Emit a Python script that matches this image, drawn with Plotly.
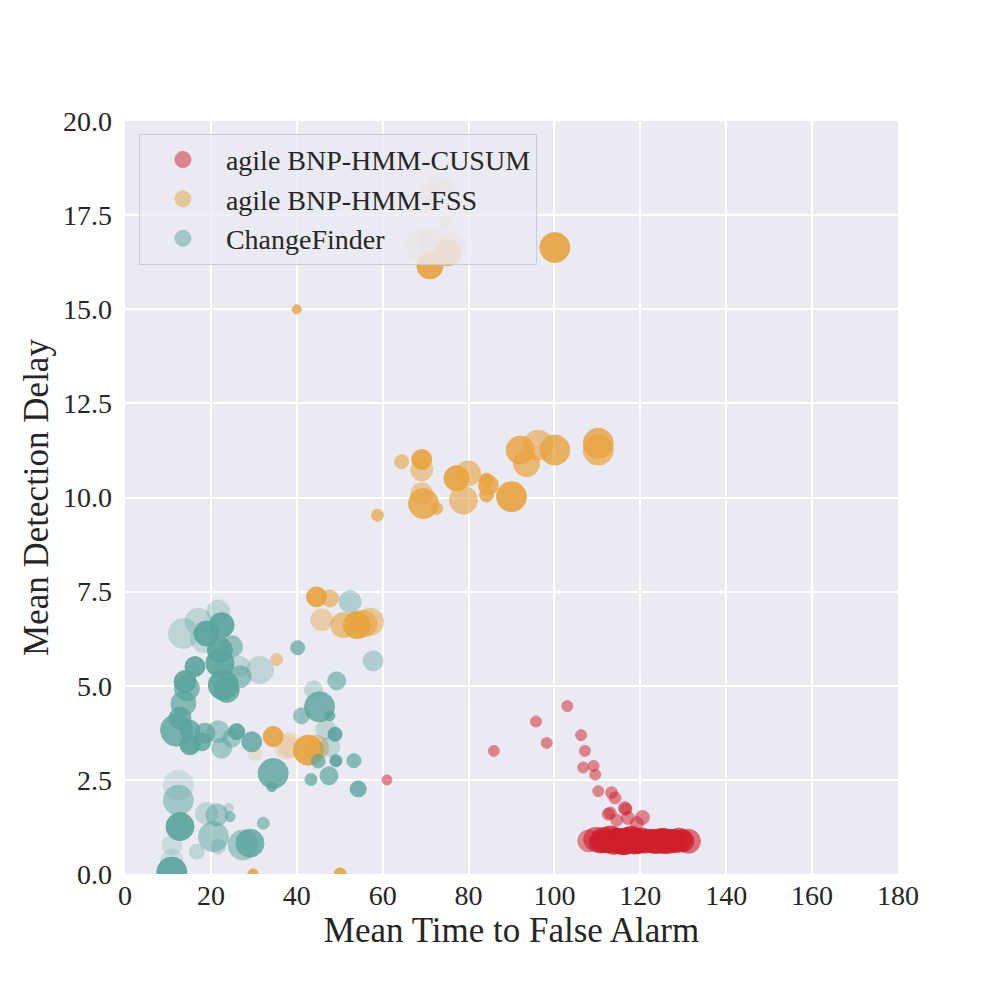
import plotly.graph_objects as go

# agile BNP-HMM-CUSUM
cusum_x = [61.0, 85.9, 95.7, 98.2, 103.0, 106.2, 107.1, 106.7, 109.1, 109.5, 110.2, 113.3, 114.1,
           112.5, 116.6, 120.5, 114.5, 117.1, 119.2, 113.0, 116.4,
           108.0, 109.6, 110.6, 111.4, 112.3, 113.1, 113.8, 114.6, 115.2, 115.9, 116.3, 116.9,
           117.4, 118.0, 118.6, 119.1, 119.8, 120.4, 121.2, 122.0, 122.9, 123.8, 124.6, 125.4,
           126.3, 127.1, 128.0, 129.0, 129.9, 131.2]
cusum_y = [2.50, 3.27, 4.05, 3.48, 4.46, 3.69, 3.27, 2.83, 2.87, 2.64, 2.20, 2.16, 2.02,
           1.59, 1.72, 1.50, 1.43, 1.49, 1.35, 1.62, 1.75,
           0.88, 0.92, 0.85, 0.90, 0.87, 0.93, 0.84, 0.89, 0.91, 0.86, 0.83, 0.90,
           0.87, 0.92, 0.85, 0.88, 0.84, 0.90, 0.86, 0.89, 0.87, 0.85, 0.91, 0.88,
           0.86, 0.89, 0.87, 0.90, 0.88, 0.87]
cusum_size = [10, 11, 11, 11, 11, 11, 11, 11, 11, 11, 11, 12, 12,
              12, 12, 14, 12, 13, 13, 12, 13,
              22, 24, 22, 25, 23, 26, 24, 25, 22, 26, 24, 25,
              23, 26, 24, 25, 22, 24, 23, 22, 24, 23, 22, 25,
              24, 22, 23, 24, 22, 24]
cusum_alpha = [0.5, 0.5, 0.5, 0.5, 0.5, 0.5, 0.5, 0.5, 0.5, 0.5, 0.5, 0.5, 0.5,
               0.5, 0.5, 0.5, 0.5, 0.5, 0.5, 0.5, 0.5,
               0.5, 0.6, 0.7, 0.8, 0.8, 0.8, 0.8, 0.8, 0.8, 0.8, 0.8, 0.8,
               0.8, 0.8, 0.8, 0.8, 0.8, 0.8, 0.8, 0.8, 0.8, 0.8, 0.8, 0.8,
               0.8, 0.8, 0.8, 0.7, 0.8, 0.6]

# agile BNP-HMM-FSS
fss_x = [40.0, 71.0, 72.2, 75.1, 74.4, 68.7, 71.4, 75.7, 71.0, 75.2, 100.1,
         58.8, 64.4, 69.1, 69.1, 69.1, 69.5, 72.6, 77.2, 79.9, 78.8, 84.2, 84.6, 84.2,
         90.0, 92.0, 93.5, 96.2, 100.1, 110.2, 110.2,
         44.6, 47.7, 45.8, 50.8, 54.0, 57.1, 55.5, 35.3,
         34.5, 37.6, 30.3, 42.7, 38.4, 44.5, 29.8, 50.1]
fss_y = [15.0, 18.0, 18.3, 18.3, 17.3, 16.7, 16.8, 16.65, 16.15, 16.5, 16.64,
         9.53, 10.95, 11.01, 10.73, 10.10, 9.84, 9.71, 10.51, 10.64, 9.93, 10.46, 10.33, 10.07,
         10.02, 11.26, 10.90, 11.39, 11.26, 11.44, 11.26,
         7.36, 7.32, 6.75, 6.61, 6.61, 6.70, 6.65, 5.70,
         3.65, 3.38, 3.20, 3.29, 3.43, 3.35, 0.0, 0.0]
fss_size = [9, 24, 16, 14, 13, 30, 26, 30, 26, 26, 30,
            12, 14, 20, 22, 22, 30, 12, 25, 25, 28, 14, 20, 14,
            30, 28, 26, 30, 30, 30, 30,
            20, 17, 22, 25, 27, 27, 27, 12,
            20, 25, 14, 30, 25, 25, 10, 12]
fss_alpha = [0.8, 0.2, 0.2, 0.2, 0.2, 0.2, 0.2, 0.2, 0.9, 0.8, 0.9,
             0.7, 0.6, 0.9, 0.5, 0.5, 0.8, 0.7, 0.9, 0.6, 0.6, 0.8, 0.8, 0.8,
             0.9, 0.8, 0.7, 0.6, 0.8, 0.8, 0.7,
             0.9, 0.6, 0.4, 0.6, 0.9, 0.5, 0.6, 0.5,
             0.9, 0.2, 0.2, 0.9, 0.2, 0.5, 0.9, 0.9]

# ChangeFinder
cf_x = [13.6, 17.1, 21.7, 22.5, 19.0, 18.2, 22.1, 24.8, 22.1, 16.3, 26.8, 31.4,
        14.0, 14.4, 22.9, 26.8, 23.7, 13.6, 12.8, 12.0, 15.1, 15.1, 18.6, 21.7,
        22.5, 26.0, 24.8, 29.5, 17.9, 34.5, 34.2, 12.4, 12.4, 12.8, 10.9, 10.9,
        10.9, 19.0, 21.4, 20.6, 16.7, 21.7, 24.1, 24.5, 27.5, 29.1, 32.2,
        40.2, 57.8, 49.3, 43.9, 45.3, 41.1, 47.7, 46.8, 48.9, 47.7, 45.0, 49.1,
        53.3, 47.5, 43.3, 54.3, 52.4]
cf_y = [6.39, 6.70, 6.97, 6.61, 6.39, 6.22, 5.95, 6.04, 5.60, 5.51, 5.51, 5.42,
        5.11, 4.93, 5.02, 5.24, 4.89, 4.53, 4.14, 3.82, 3.82, 3.43, 3.74, 3.78,
        3.34, 3.78, 3.60, 3.51, 3.51, 2.67, 2.32, 2.36, 1.96, 1.26, 0.77, 0.37,
        0.05, 1.61, 1.57, 0.99, 0.59, 0.73, 1.74, 1.52, 0.77, 0.82, 1.35,
        6.01, 5.66, 5.13, 4.89, 4.44, 4.20, 4.20, 3.84, 3.71, 3.38, 3.00, 3.01,
        3.01, 2.61, 2.51, 2.26, 7.23]
cf_size = [30, 27, 23, 25, 25, 25, 25, 22, 28, 20, 20, 27,
           22, 25, 30, 22, 25, 25, 22, 32, 20, 20, 20, 22,
           20, 16, 18, 20, 18, 30, 10, 30, 30, 28, 20, 22,
           30, 22, 22, 30, 15, 15, 10, 10, 30, 28, 12,
           14, 20, 18, 18, 30, 16, 10, 20, 14, 20, 14, 12,
           14, 18, 12, 16, 22]
cf_alpha = [0.3, 0.3, 0.3, 0.9, 0.9, 0.3, 0.9, 0.6, 0.9, 0.9, 0.3, 0.3,
            0.9, 0.7, 0.9, 0.6, 0.8, 0.7, 0.8, 0.8, 0.8, 0.9, 0.7, 0.5,
            0.5, 0.9, 0.5, 0.8, 0.8, 0.8, 0.8, 0.2, 0.5, 0.9, 0.2, 0.2,
            0.9, 0.3, 0.5, 0.5, 0.3, 0.3, 0.3, 0.6, 0.5, 0.8, 0.6,
            0.7, 0.4, 0.6, 0.3, 0.8, 0.6, 0.8, 0.3, 0.9, 0.3, 0.7, 0.9,
            0.7, 0.7, 0.7, 0.8, 0.4]

series = [
    ("agile BNP-HMM-CUSUM", cusum_x, cusum_y, cusum_size, cusum_alpha, "#d11e2b"),
    ("agile BNP-HMM-FSS", fss_x, fss_y, fss_size, fss_alpha, "#e8a43f"),
    ("ChangeFinder", cf_x, cf_y, cf_size, cf_alpha, "#5aa59c"),
]

fig = go.Figure()
for name, xs, ys, sizes, alphas, color in series:
    fig.add_trace(go.Scatter(
        x=xs, y=ys, mode="markers", name=name, showlegend=False,
        marker=dict(size=sizes, color=color, opacity=alphas,
                    line=dict(color=color, width=1)),
    ))
# legend entries with a uniform swatch
for name, _, _, _, _, color in series:
    fig.add_trace(go.Scatter(
        x=[None], y=[None], mode="markers", name=name,
        marker=dict(size=22, color=color, opacity=0.5, line=dict(color=color, width=1)),
    ))

font = "Liberation Serif, Times New Roman, serif"
# page body adds an 8px offset, margins compensate for it
fig.update_layout(
    width=1000, height=1000,
    margin=dict(l=117, r=110, t=113, b=134),
    paper_bgcolor="white",
    plot_bgcolor="#eaeaf2",
    font=dict(family=font, size=28, color="#262626"),
    legend=dict(
        x=0.018, y=0.983, xanchor="left", yanchor="top",
        bgcolor="rgba(234,234,242,0.8)", bordercolor="#cccccc", borderwidth=1,
        font=dict(family=font, size=28, color="#262626"),
        itemwidth=76, tracegroupgap=0,
    ),
)
fig.update_xaxes(
    range=[0, 180], tick0=0, dtick=20, showgrid=True, gridcolor="white", gridwidth=1.5,
    zeroline=False, showline=False, ticks="", ticklabelstandoff=2,
    title=dict(text="Mean Time to False Alarm", font=dict(size=35), standoff=4),
)
fig.update_yaxes(
    range=[0, 20], tick0=0, dtick=2.5, tickformat=".1f", showgrid=True, gridcolor="white",
    gridwidth=1.5, zeroline=False, showline=False, ticks="", ticklabelstandoff=12,
    title=dict(text="Mean Detection Delay", font=dict(size=35), standoff=3),
)

fig.write_html("out.html")
